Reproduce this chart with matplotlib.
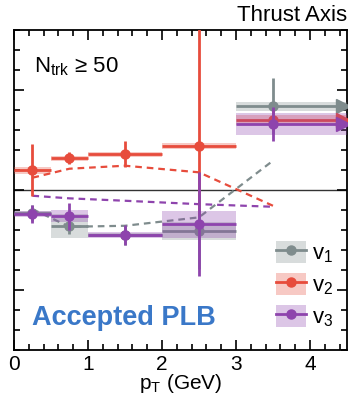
import matplotlib
matplotlib.use('Agg')
import matplotlib.pyplot as plt
from matplotlib.patches import Rectangle, Patch
from matplotlib.lines import Line2D
from matplotlib.legend_handler import HandlerTuple
from matplotlib.ticker import MultipleLocator, NullFormatter

plt.rcParams['font.family'] = ['Liberation Sans', 'DejaVu Sans']
plt.rcParams['mathtext.fontset'] = 'custom'
plt.rcParams['mathtext.rm'] = 'Liberation Sans'
plt.rcParams['mathtext.it'] = 'Liberation Sans:italic'

# bins in pT (GeV)
pt = [0.25, 0.75, 1.5, 2.5, 3.5]
pt_lo = [0.0, 0.5, 1.0, 2.0, 3.0]
pt_hi = [0.5, 1.0, 2.0, 3.0, 4.5]

# measured harmonics, stat and syst
v1 = [-0.0118, -0.018, -0.0225, -0.0205, 0.0417]
v1_stat = [0.004, 0.004, 0.005, 0.019, 0.014]
v1_sys = [0.001, 0.006, 0.001, 0.0045, 0.0022]

v2 = [0.0098, 0.0158, 0.0178, 0.0218, 0.035]
v2_stat_lo = [0.013, 0.003, 0.0065, 0.035, 0.005]
v2_stat_hi = [0.013, 0.003, 0.0065, 0.07, 0.005]
v2_sys = [0.0017, 0.0012, 0.0013, 0.0017, 0.0025]

v3 = [-0.0122, -0.0133, -0.0227, -0.0172, 0.0328]
v3_stat = [0.0045, 0.0068, 0.005, 0.026, 0.0083]
v3_sys = [0.0015, 0.003, 0.0015, 0.0067, 0.0055]

# model curves (dashed)
model_pt = [0.25, 0.75, 1.5, 2.5, 3.5]
model_v1 = [-0.0097, -0.0185, -0.018, -0.0138, 0.0145]
model_v2 = [0.006, 0.0105, 0.012, 0.0087, -0.008]
model_v3 = [-0.003, -0.0043, -0.0055, -0.0072, -0.0085]

c1 = '#7f8c8d'
c2 = '#e74c3c'
c3 = '#8e44ad'

fig = plt.figure(figsize=(3.48, 4.05), dpi=100)
ax = fig.add_axes([0.040, 0.136, 0.957, 0.791])

ax.axhline(0, color='#333333', lw=1, zorder=1)

# dashed model lines
for mv, c in ((model_v1, c1), (model_v2, c2), (model_v3, c3)):
    ax.plot(model_pt, mv, color=c, lw=1.6, dashes=(3, 2.2), zorder=2)

def draw(vals, stat_lo, stat_hi, sys, col, z):
    for i in range(len(pt)):
        ax.add_patch(Rectangle((pt_lo[i], vals[i] - sys[i]), pt_hi[i] - pt_lo[i],
                               2 * sys[i], facecolor=col, alpha=0.3,
                               edgecolor='none', zorder=z))
    xerr = [[p - l for p, l in zip(pt, pt_lo)], [h - p for p, h in zip(pt, pt_hi)]]
    ax.errorbar(pt, vals, yerr=[stat_lo, stat_hi], xerr=xerr, fmt='o', color=col,
                ms=6.5, lw=2, capsize=0, zorder=z + 1)
    # overflow arrow on last bin
    ax.plot(4.44, vals[-1], marker='>', color=col, ms=10, zorder=z + 1, clip_on=False)

draw(v1, v1_stat, v1_stat, v1_sys, c1, 3)
draw(v2, v2_stat_lo, v2_stat_hi, v2_sys, c2, 5)
draw(v3, v3_stat, v3_stat, v3_sys, c3, 7)

ax.set_xlim(0, 4.5)
ax.set_ylim(-0.08, 0.08)
ax.xaxis.set_major_locator(MultipleLocator(1))
ax.xaxis.set_minor_locator(MultipleLocator(0.2))
ax.yaxis.set_major_locator(MultipleLocator(0.05))
ax.yaxis.set_minor_locator(MultipleLocator(0.01))
ax.yaxis.set_major_formatter(NullFormatter())
ax.tick_params(which='both', direction='in', top=True, right=True, width=1.2)
ax.tick_params(which='major', length=7, labelsize=15)
ax.tick_params(which='minor', length=4)
for s in ax.spines.values():
    s.set_linewidth(1.3)

ax.set_xlabel(r'p$_\mathregular{T}$ (GeV)', fontsize=15, labelpad=-1)

fig.text(0.997, 0.935, 'Thrust Axis', ha='right', va='bottom', fontsize=16)
ax.text(0.06, 0.92, r'N$_\mathregular{trk}$ ≥ 50', transform=ax.transAxes,
        ha='left', va='top', fontsize=16)
ax.text(0.055, 0.06, 'Accepted PLB', transform=ax.transAxes, ha='left',
        va='bottom', fontsize=19.5, fontweight='bold', color='#3a78c8')

handles = [(Patch(facecolor=c, alpha=0.3, edgecolor='none'),
            Line2D([], [], color=c, lw=2, marker='o', ms=6.5)) for c in (c1, c2, c3)]
ax.legend(handles, [r'v$_\mathregular{1}$', r'v$_\mathregular{2}$', r'v$_\mathregular{3}$'],
          handler_map={tuple: HandlerTuple(ndivide=1)}, loc='lower right',
          bbox_to_anchor=(1.0, 0.023), frameon=False, fontsize=16,
          handlelength=1.35, handleheight=1.15, handletextpad=0.3, labelspacing=0.35,
          borderaxespad=0.2)

fig.savefig('out.png', dpi=100)
